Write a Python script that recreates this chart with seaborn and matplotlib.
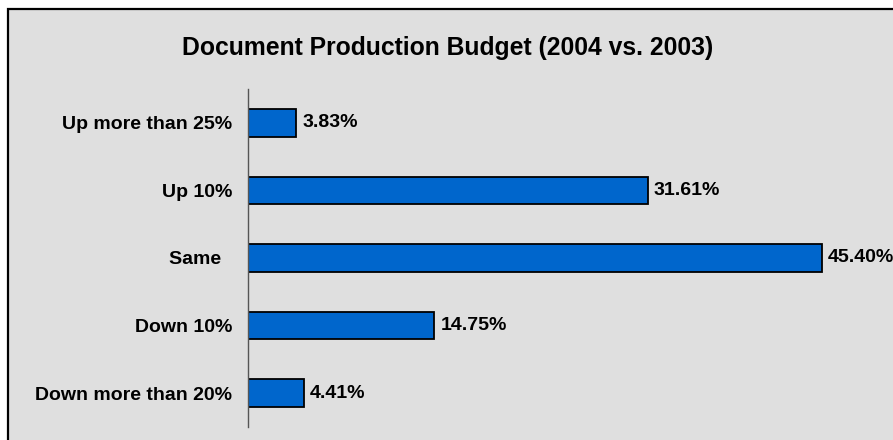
import matplotlib
matplotlib.use("Agg")
import matplotlib.pyplot as plt
from matplotlib.patches import Rectangle
import seaborn as sns
import pandas as pd

categories = ["Up more than 25%", "Up 10%", "Same  ", "Down 10%", "Down more than 20%"]
values = [3.83, 31.61, 45.40, 14.75, 4.41]
title = "Document Production Budget (2004 vs. 2003)"

sns.set_theme(style="white")
plt.rcParams["font.family"] = ["Liberation Sans", "DejaVu Sans"]
plt.rcParams["font.weight"] = "bold"
plt.rcParams["text.color"] = "black"
plt.rcParams["ytick.color"] = "black"

W, H = 893, 440
fig = plt.figure(figsize=(W / 100, H / 100), dpi=100)
fig.patch.set_facecolor("white")

# grey chart area with black frame (top-left corner visible)
fig.patches.append(Rectangle((8 / W, -0.05), 1.2, (431 / H) + 0.05,
                             transform=fig.transFigure, facecolor="#DFDFDF",
                             edgecolor="black", linewidth=1.6, zorder=-1))

ax = fig.add_axes([248 / W, 13 / H, 1 - 248 / W, (427 - 89) / H])
ax.set_zorder(2)
ax.set_facecolor("none")

df = pd.DataFrame({"category": categories, "value": values})
sns.barplot(data=df, x="value", y="category", orient="h", color="#0066CC",
            saturation=1, edgecolor="black", linewidth=1.3, width=0.41, ax=ax)

ax.set_xlim(0, (W - 248) / 12.64)
ax.set_ylim(4.5, -0.5)
for c in ax.containers:
    ax.bar_label(c, labels=[f"{v:.2f}%" for v in values], padding=4.5,
                 fontsize=14, fontweight="bold", color="black")

for s in ["top", "right", "bottom"]:
    ax.spines[s].set_visible(False)
ax.spines["left"].set_color("#555555")
ax.spines["left"].set_linewidth(1.0)
ax.set_xticks([])
ax.tick_params(axis="y", length=0, pad=11.5, labelsize=14, labelcolor="black")
for t in ax.get_yticklabels():
    t.set_fontweight("bold")
ax.set_xlabel("")
ax.set_ylabel("")

fig.text(448 / W, 1 - 48 / H, title, ha="center", va="center",
         fontsize=17.8, fontweight="bold", color="black")

fig.savefig("out.png", dpi=100)
